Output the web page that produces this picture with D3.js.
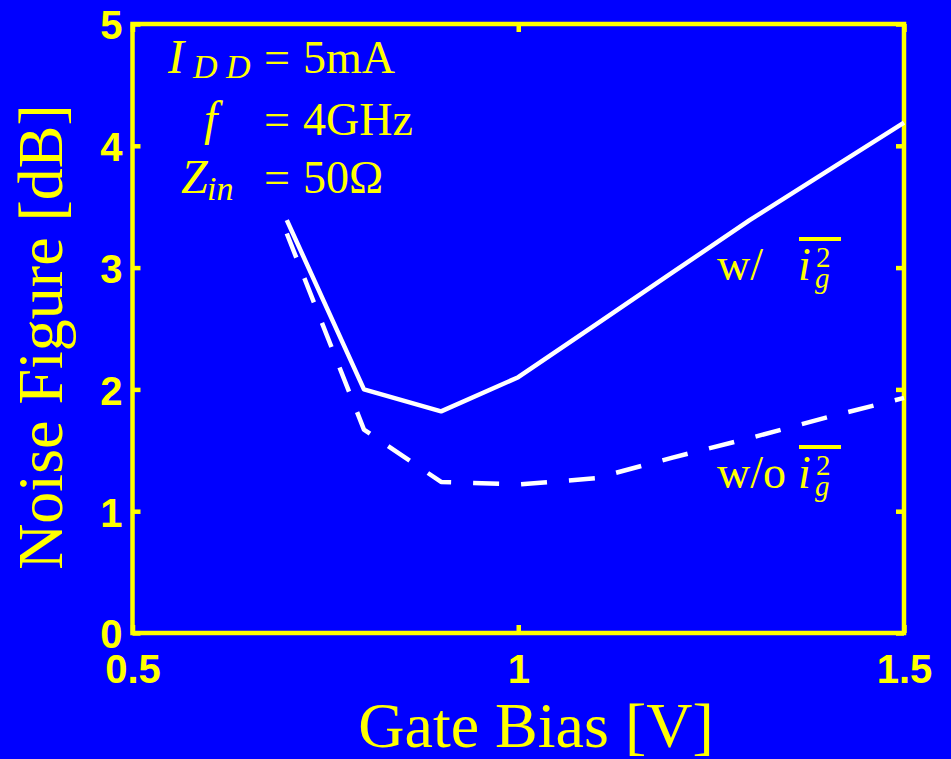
<!DOCTYPE html>
<html>
<head>
<meta charset="utf-8">
<script src="https://cdn.jsdelivr.net/npm/d3@7"></script>
<style>
  html, body { margin: 0; padding: 0; background: #0000ff; }
  svg { display: block; }
</style>
</head>
<body>
<div id="chart"></div>
<script>
const gateBias = [0.7, 0.8, 0.9, 1.0, 1.1, 1.2, 1.3, 1.4, 1.5];
const nfWithIg = [3.39, 2.00, 1.82, 2.10, 2.53, 2.96, 3.39, 3.79, 4.19];
const nfWithoutIg = [3.28, 1.67, 1.24, 1.22, 1.27, 1.44, 1.60, 1.77, 1.93];
const xTicks = [0.5, 1, 1.5];
const yTicks = [0, 1, 2, 3, 4, 5];

(function () {
    const w = 951, h = 759;
    const yellow = "#ffff00";
    const serif = "'Liberation Serif', 'Times New Roman', serif";
    const sans = "'Liberation Sans', Arial, sans-serif";

    const svg = d3.select("#chart")
        .append("svg")
        .attr("width", w)
        .attr("height", h)
        .style("background", "#0000ff");

    const xScale = d3.scaleLinear().domain([0.5, 1.5]).range([132.5, 904]);
    const yScale = d3.scaleLinear().domain([0, 5]).range([633, 24]);

    const styleAxis = g => {
        g.select(".domain").remove();
        g.selectAll(".tick line").attr("stroke", yellow).attr("stroke-width", 4.5);
        g.selectAll(".tick text")
            .attr("fill", yellow)
            .style("font-family", sans)
            .style("font-weight", "bold")
            .style("font-size", "40px");
    };

    svg.append("g")
        .attr("transform", `translate(0,${yScale(0)})`)
        .call(d3.axisBottom(xScale).tickValues(xTicks).tickSizeInner(-8).tickSizeOuter(0)
            .tickPadding(22).tickFormat(d3.format("")))
        .call(styleAxis);

    svg.append("g")
        .attr("transform", `translate(0,${yScale(5)})`)
        .call(d3.axisTop(xScale).tickValues(xTicks).tickSizeInner(-8).tickSizeOuter(0).tickFormat(""))
        .call(styleAxis);

    svg.append("g")
        .attr("transform", `translate(${xScale(0.5)},0)`)
        .call(d3.axisLeft(yScale).tickValues(yTicks).tickSizeInner(-8).tickSizeOuter(0)
            .tickPadding(10).tickFormat(d3.format("d")))
        .call(styleAxis)
        .selectAll(".tick text").attr("dy", "0.37em");

    svg.append("g")
        .attr("transform", `translate(${xScale(1.5)},0)`)
        .call(d3.axisRight(yScale).tickValues(yTicks).tickSizeInner(-8).tickSizeOuter(0).tickFormat(""))
        .call(styleAxis);

    // frame
    svg.append("rect")
        .attr("x", xScale(0.5))
        .attr("y", yScale(5))
        .attr("width", xScale(1.5) - xScale(0.5))
        .attr("height", yScale(0) - yScale(5))
        .attr("fill", "none")
        .attr("stroke", yellow)
        .attr("stroke-width", 4.5);

    const line = d3.line()
        .x((d, i) => xScale(gateBias[i]))
        .y(d => yScale(d));

    svg.append("path")
        .datum(nfWithIg)
        .attr("d", line)
        .attr("fill", "none")
        .attr("stroke", "#ffffff")
        .attr("stroke-width", 4.5)
        .attr("stroke-linejoin", "round");

    svg.append("path")
        .datum(nfWithoutIg)
        .attr("d", line)
        .attr("fill", "none")
        .attr("stroke", "#ffffff")
        .attr("stroke-width", 4.5)
        .attr("stroke-dasharray", "26,22")
        .attr("stroke-linejoin", "round");

    // axis labels
    svg.append("text")
        .attr("x", 536)
        .attr("y", 747)
        .attr("text-anchor", "middle")
        .attr("fill", yellow)
        .style("font-family", serif)
        .style("font-size", "64px")
        .text("Gate Bias [V]");

    svg.append("text")
        .attr("transform", "translate(62,337) rotate(-90)")
        .attr("text-anchor", "middle")
        .attr("fill", yellow)
        .style("font-family", serif)
        .style("font-size", "64px")
        .text("Noise Figure [dB]");

    // annotations
    const note = (x, y, txt, size, italic) => svg.append("text")
        .attr("x", x).attr("y", y)
        .attr("fill", yellow)
        .style("font-family", serif)
        .style("font-size", size + "px")
        .style("font-style", italic ? "italic" : "normal")
        .style("white-space", "pre")
        .text(txt);

    note(168, 73, "I", 48, true);
    note(193, 78, "D D", 34, true);
    note(264, 73, "=", 46, false);
    note(303, 73, "5mA", 46, false);

    note(204, 135, "f", 48, true);
    note(264, 135, "=", 46, false);
    note(303, 135, "4GHz", 46, false);

    note(181, 193, "Z", 48, true);
    note(207, 200, "in", 34, true);
    note(264, 193, "=", 46, false);
    note(303, 193, "50Ω", 46, false);

    // legend labels
    const igLabel = (x, y, prefix) => {
        note(x, y, prefix, 46, false);
        note(798, y, "i", 46, true);
        note(816, y - 13, "2", 29, false);
        note(815, y + 8, "g", 29, true);
        svg.append("line")
            .attr("x1", 799).attr("x2", 841)
            .attr("y1", y - 41).attr("y2", y - 41)
            .attr("stroke", yellow)
            .attr("stroke-width", 4);
    };
    igLabel(717, 280, "w/");
    igLabel(717, 488, "w/o");
})();
</script>
</body>
</html>
